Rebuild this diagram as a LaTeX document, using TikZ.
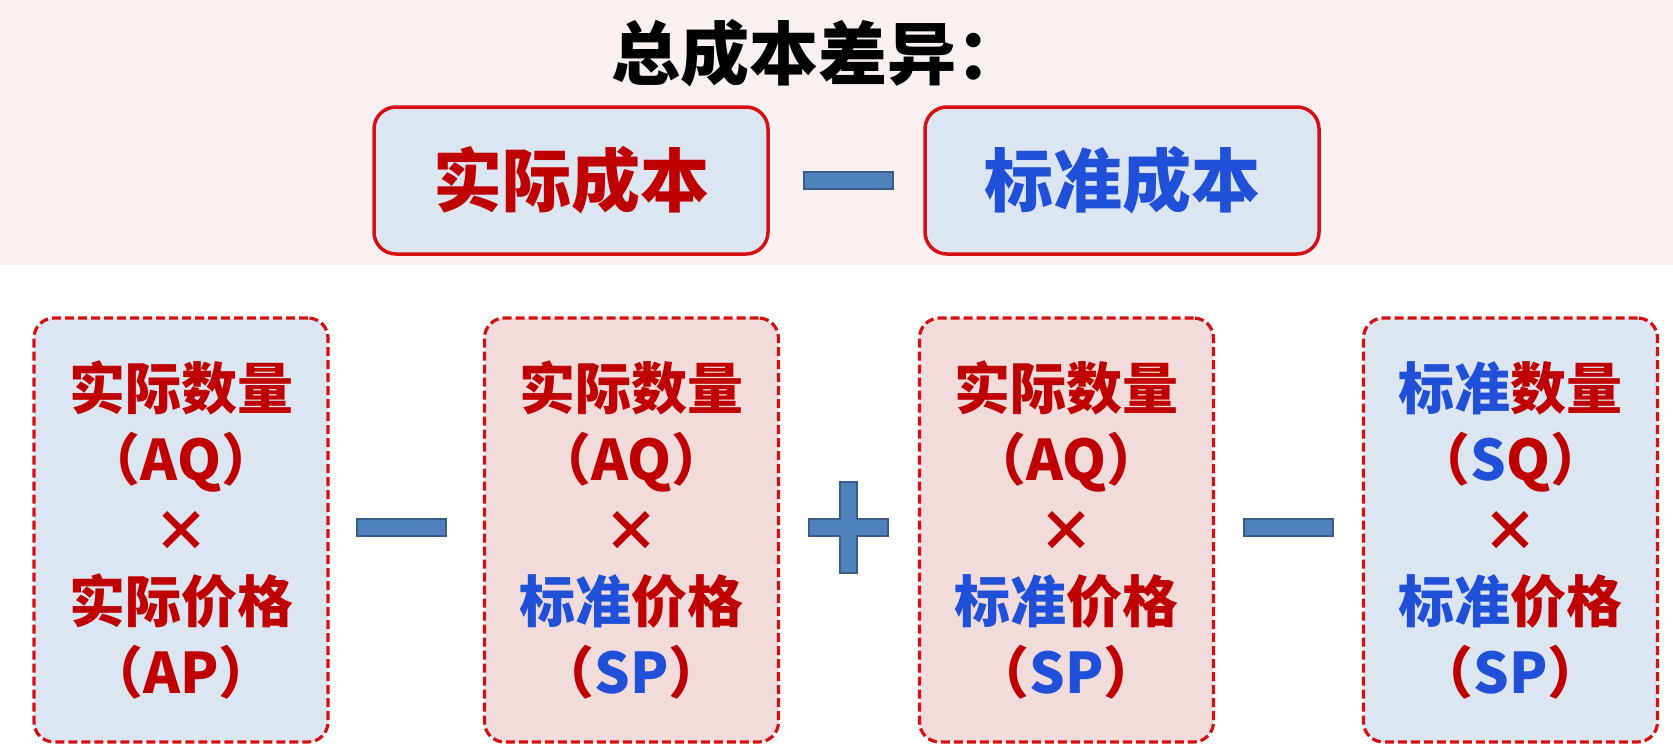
\documentclass[tikz,border=0pt]{standalone}
\usepackage{fontspec}
\setmainfont{Noto Sans CJK SC}
\definecolor{tred}{RGB}{192,0,0}
\definecolor{tblue}{RGB}{32,80,215}
\definecolor{bandpink}{RGB}{250,240,239}
\definecolor{lblue}{RGB}{220,230,242}
\definecolor{lpink}{RGB}{242,220,219}
\definecolor{bred}{RGB}{214,16,16}
\definecolor{opfill}{RGB}{79,129,189}
\definecolor{opdraw}{RGB}{56,93,138}
\newcommand{\R}[1]{\textcolor{tred}{#1}}
\newcommand{\B}[1]{\textcolor{tblue}{#1}}
\begin{document}
\begin{tikzpicture}[x=1pt,y=-1pt,
  topbox/.style={draw=bred, line width=3.5pt, rounded corners=22pt, fill=lblue,
    minimum width=394pt, minimum height=147pt, inner sep=0pt,
    font=\fontsize{69}{80}\selectfont\bfseries},
  botbox/.style={draw=bred, line width=3.2pt, dash pattern=on 9pt off 4pt,
    rounded corners=20pt, minimum width=294pt, minimum height=424pt, inner sep=0pt,
    align=center, font=\fontsize{56}{71}\selectfont\bfseries},
  opshape/.style={fill=opfill, draw=opdraw, line width=2pt}]
\useasboundingbox (0,0) rectangle (1673,747);
\fill[bandpink] (0,0) rectangle (1673,265);
\node[font=\fontsize{69}{72}\selectfont\bfseries] (title) at (818,53) {总成本差异：};
\node[topbox] (ac) at (571,180.5) {\R{实际成本}};
\node[topbox] (sc) at (1122,180.5) {\B{标准成本}};
\node[opshape, minimum width=89pt, minimum height=17pt, inner sep=0pt] (m0) at (848.5,180.5) {};
\node[botbox, fill=lblue] (b1) at (181,530)
  {\R{实际数量}\\\R{（AQ）}\\\R{×}\\\R{实际价格}\\\R{（AP）}};
\node[botbox, fill=lpink] (b2) at (631.5,530)
  {\R{实际数量}\\\R{（AQ）}\\\R{×}\\\B{标准}\R{价格}\\\R{（}\B{SP}\R{）}};
\node[botbox, fill=lpink] (b3) at (1066.5,530)
  {\R{实际数量}\\\R{（AQ）}\\\R{×}\\\B{标准}\R{价格}\\\R{（}\B{SP}\R{）}};
\node[botbox, fill=lblue] (b4) at (1510.5,530)
  {\B{标准}\R{数量}\\\R{（}\B{S}\R{Q）}\\\R{×}\\\B{标准}\R{价格}\\\R{（}\B{SP}\R{）}};
\node[opshape, minimum width=89pt, minimum height=17pt, inner sep=0pt] (m1) at (401.5,527.5) {};
\node[opshape, minimum width=89pt, minimum height=17pt, inner sep=0pt] (m2) at (1288.5,527.5) {};
\coordinate (pc) at (848.5,527.5);
\draw[opshape] ([shift={(-8.5,-45.5)}]pc) -- ([shift={(8.5,-45.5)}]pc) -- ([shift={(8.5,-8.5)}]pc)
  -- ([shift={(39.5,-8.5)}]pc) -- ([shift={(39.5,8.5)}]pc) -- ([shift={(8.5,8.5)}]pc)
  -- ([shift={(8.5,45.5)}]pc) -- ([shift={(-8.5,45.5)}]pc) -- ([shift={(-8.5,8.5)}]pc)
  -- ([shift={(-39.5,8.5)}]pc) -- ([shift={(-39.5,-8.5)}]pc) -- ([shift={(-8.5,-8.5)}]pc) -- cycle;
\end{tikzpicture}
\end{document}
